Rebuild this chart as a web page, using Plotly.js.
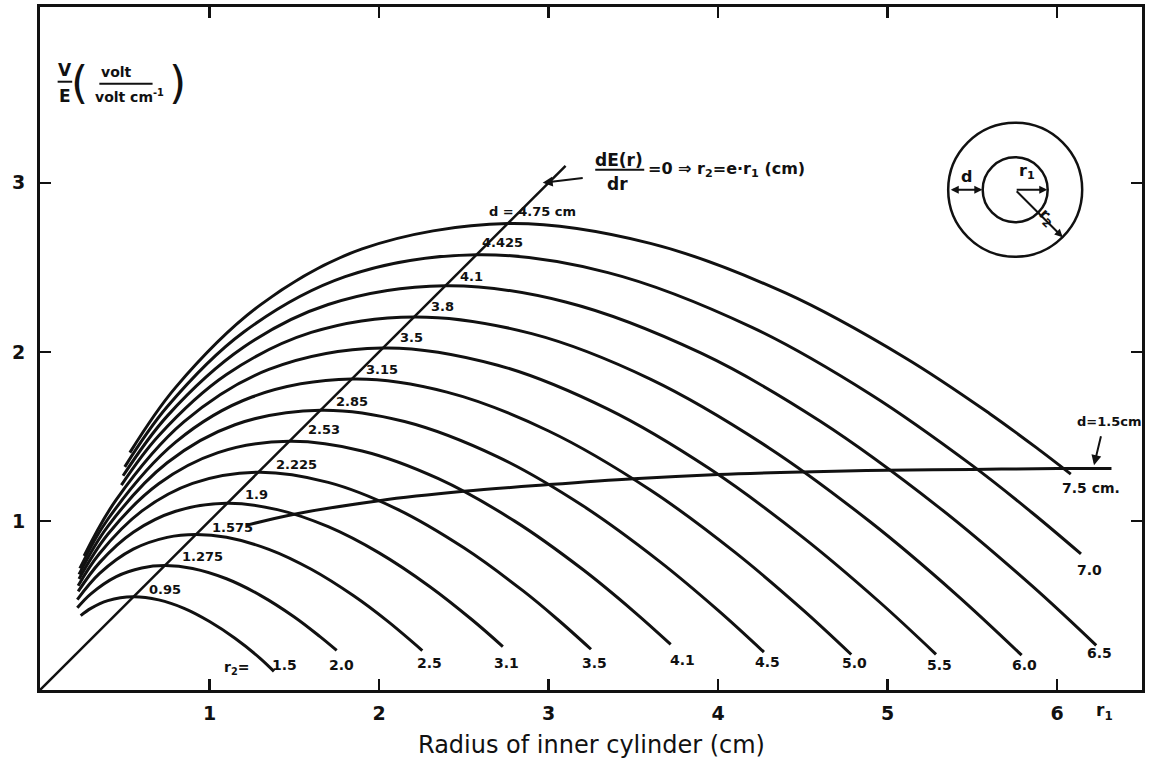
<!DOCTYPE html>
<html>
<head>
<meta charset="utf-8">
<script src="https://cdn.plot.ly/plotly-3.0.1.min.js"></script>
<style>html,body{margin:0;padding:0;background:#fff;}#chart{width:1151px;height:768px;}</style>
</head>
<body>
<div id="chart"></div>
<script>
// ---- data ----
const xTicks = [1, 2, 3, 4, 5, 6];
const yTicks = [1, 2, 3];

// curves of constant outer radius r2 (r1 in cm, V/E)
const r1_15 = [0.24, 0.3, 0.4, 0.55, 0.7, 0.85, 1.0, 1.15, 1.3, 1.38];
const v_15  = [0.44, 0.483, 0.529, 0.552, 0.533, 0.483, 0.405, 0.306, 0.186, 0.11];
const r1_20 = [0.22, 0.3, 0.45, 0.6, 0.74, 0.9, 1.1, 1.3, 1.5, 1.65, 1.75];
const v_20  = [0.486, 0.569, 0.671, 0.722, 0.736, 0.719, 0.658, 0.56, 0.432, 0.317, 0.234];
const r1_25 = [0.22, 0.35, 0.55, 0.75, 0.92, 1.1, 1.35, 1.6, 1.85, 2.05, 2.255];
const v_25  = [0.535, 0.688, 0.833, 0.903, 0.92, 0.903, 0.832, 0.714, 0.557, 0.407, 0.233];
const r1_31 = [0.225, 0.35, 0.55, 0.8, 1.1, 1.4, 1.7, 2.0, 2.3, 2.55, 2.73];
const v_31  = [0.583, 0.752, 0.933, 1.057, 1.104, 1.067, 0.966, 0.811, 0.611, 0.414, 0.257];
const r1_35 = [0.225, 0.35, 0.6, 0.9, 1.29, 1.7, 2.1, 2.5, 2.85, 3.05, 3.25];
const v_35  = [0.617, 0.806, 1.058, 1.222, 1.288, 1.228, 1.073, 0.841, 0.586, 0.42, 0.241];
const r1_41 = [0.23, 0.4, 0.7, 1.05, 1.47, 1.9, 2.35, 2.8, 3.2, 3.5, 3.72];
const v_41  = [0.657, 0.921, 1.22, 1.404, 1.471, 1.414, 1.25, 0.999, 0.714, 0.467, 0.27];
const r1_45 = [0.23, 0.4, 0.75, 1.15, 1.655, 2.15, 2.7, 3.2, 3.65, 4.0, 4.27];
const v_45  = [0.684, 0.968, 1.344, 1.569, 1.655, 1.588, 1.379, 1.091, 0.764, 0.471, 0.224];
const r1_50 = [0.235, 0.4, 0.8, 1.25, 1.84, 2.4, 3.0, 3.6, 4.1, 4.5, 4.785];
const v_50  = [0.719, 1.01, 1.466, 1.733, 1.839, 1.762, 1.532, 1.183, 0.814, 0.474, 0.21];
const r1_55 = [0.26, 0.45, 0.85, 1.35, 2.02, 2.7, 3.35, 3.95, 4.5, 4.95, 5.285];
const v_55  = [0.793, 1.126, 1.587, 1.896, 2.023, 1.921, 1.661, 1.308, 0.903, 0.522, 0.211];
const r1_60 = [0.48, 0.7, 1.1, 1.6, 2.21, 2.9, 3.6, 4.3, 4.9, 5.4, 5.79];
const v_60  = [1.212, 1.504, 1.866, 2.115, 2.207, 2.108, 1.839, 1.432, 0.992, 0.569, 0.206];
const r1_65 = [0.49, 0.75, 1.2, 1.7, 2.39, 3.1, 3.9, 4.6, 5.3, 5.85, 6.23];
const v_65  = [1.267, 1.62, 2.027, 2.28, 2.391, 2.295, 1.992, 1.591, 1.082, 0.617, 0.264];
const r1_70 = [0.5, 0.75, 1.2, 1.8, 2.575, 3.35, 4.2, 4.9, 5.5, 5.85, 6.14];
const v_70  = [1.32, 1.675, 2.116, 2.445, 2.575, 2.469, 2.145, 1.748, 1.327, 1.05, 0.805];
const r1_75 = [0.53, 0.8, 1.3, 1.9, 2.76, 3.6, 4.4, 5.1, 5.6, 5.9, 6.08];
const v_75  = [1.404, 1.79, 2.278, 2.609, 2.759, 2.642, 2.347, 1.967, 1.636, 1.416, 1.277];

// constant gap d = 1.5 cm
const r1_d15 = [1.22, 1.5, 2.0, 2.5, 3.0, 3.5, 4.0, 4.5, 5.0, 5.5, 6.0, 6.32];
const v_d15  = [0.975, 1.04, 1.12, 1.175, 1.215, 1.25, 1.275, 1.29, 1.3, 1.305, 1.31, 1.31];

// locus of maxima dE/dr = 0  (r2 = e*r1)
const r1_max = [0, 3.1];
const v_max  = [0, 3.1];

const r2Labels = ["1.5", "2.0", "2.5", "3.1", "3.5", "4.1", "4.5", "5.0", "5.5", "6.0", "6.5", "7.0", "7.5 cm."];
const dLabels  = ["0.95", "1.275", "1.575", "1.9", "2.225", "2.53", "2.85", "3.15", "3.5", "3.8", "4.1", "4.425", "d = 4.75 cm"];

// ---- drawing ----
const INK = '#111';
const curvesX = [r1_15, r1_20, r1_25, r1_31, r1_35, r1_41, r1_45, r1_50, r1_55, r1_60, r1_65, r1_70, r1_75];
const curvesY = [v_15, v_20, v_25, v_31, v_35, v_41, v_45, v_50, v_55, v_60, v_65, v_70, v_75];

const traces = curvesX.map((xs, i) => ({
  x: xs, y: curvesY[i], type: 'scatter', mode: 'lines',
  line: {color: INK, width: 3, shape: 'spline', smoothing: 1},
  hoverinfo: 'skip', showlegend: false, name: 'r2 = ' + r2Labels[i]
}));
traces.push({x: r1_d15, y: v_d15, type: 'scatter', mode: 'lines',
  line: {color: INK, width: 3, shape: 'spline', smoothing: 1}, showlegend: false, hoverinfo: 'skip'});
traces.push({x: r1_max, y: v_max, type: 'scatter', mode: 'lines',
  line: {color: INK, width: 2.5}, showlegend: false, hoverinfo: 'skip'});

const F = 'DejaVu Sans, Arial, sans-serif';
const lblFont = {family: F, size: 13, color: INK, weight: 'bold'};

// label positions (data coords)
const dPos = [[0.735,0.592],[0.958,0.787],[1.136,0.964],[1.277,1.154],[1.513,1.331],[1.678,1.538],
  [1.843,1.704],[2.02,1.893],[2.191,2.083],[2.374,2.266],[2.545,2.444],[2.728,2.645],[2.905,2.828]];
const r2Pos = [[1.442,0.148],[1.778,0.148],[2.297,0.16],[2.751,0.16],[3.27,0.16],[3.789,0.178],
  [4.29,0.166],[4.803,0.16],[5.304,0.148],[5.806,0.148],[6.248,0.219],[6.189,0.71],[6.2,1.195]];

const ann = [];
dLabels.forEach((t, i) => ann.push({x: dPos[i][0], y: dPos[i][1], text: t, showarrow: false, font: lblFont}));
r2Labels.forEach((t, i) => ann.push({x: r2Pos[i][0], y: r2Pos[i][1], text: t, showarrow: false, font: {family: F, size: 14, color: INK, weight: 'bold'}}));
ann.push({x: 1.159, y: 0.13, text: 'r<sub>2</sub>=', showarrow: false, font: {family: F, size: 14, color: INK, weight: 'bold'}});
// d = 1.5 cm
ann.push({x: 6.307, y: 1.586, text: 'd=1.5cm', showarrow: false, font: {family: F, size: 13, color: INK, weight: 'bold'}});
ann.push({x: 6.217, y: 1.33, ax: 6.26, ay: 1.51, axref: 'x', ayref: 'y', text: '', showarrow: true,
  arrowhead: 2, arrowsize: 1, arrowwidth: 2, arrowcolor: INK});
// r1 at axis end (paper coords, below the axis)
ann.push({xref: 'paper', yref: 'paper', x: 0.9755, y: -0.032, yanchor: 'middle', text: 'r<sub>1</sub>', showarrow: false,
  font: {family: F, size: 17, color: INK, weight: 'bold'}});
// dE/dr annotation
ann.push({x: 3.417, y: 3.136, text: 'dE(r)', showarrow: false, font: {family: F, size: 17, color: INK, weight: 'bold'}});
ann.push({x: 3.405, y: 2.994, text: 'dr', showarrow: false, font: {family: F, size: 17, color: INK, weight: 'bold'}});
ann.push({x: 3.577, y: 3.077, xanchor: 'left', text: '=0 ⇒ r<sub>2</sub>=e·r<sub>1</sub> (cm)', showarrow: false, font: {family: F, size: 16, color: INK, weight: 'bold'}});
ann.push({x: 2.965, y: 3.0, ax: 3.21, ay: 3.03, axref: 'x', ayref: 'y', text: '', showarrow: true,
  arrowhead: 2, arrowsize: 1, arrowwidth: 2, arrowcolor: INK});
// y-axis label
ann.push({x: 0.145, y: 3.669, text: 'V', showarrow: false, font: {family: F, size: 17, color: INK, weight: 'bold'}});
ann.push({x: 0.145, y: 3.515, text: 'E', showarrow: false, font: {family: F, size: 17, color: INK, weight: 'bold'}});
ann.push({x: 0.233, y: 3.595, text: '(', showarrow: false, font: {family: F, size: 44, color: INK}});
ann.push({x: 0.81, y: 3.595, text: ')', showarrow: false, font: {family: F, size: 44, color: INK}});
ann.push({x: 0.452, y: 3.657, text: 'volt', showarrow: false, font: {family: F, size: 14, color: INK, weight: 'bold'}});
ann.push({x: 0.53, y: 3.515, text: 'volt cm<sup>-1</sup>', showarrow: false, font: {family: F, size: 14, color: INK, weight: 'bold'}});
// inset labels
ann.push({x: 5.463, y: 3.04, text: 'd', showarrow: false, font: {family: F, size: 16, color: INK, weight: 'bold'}});
ann.push({x: 5.823, y: 3.065, text: 'r<sub>1</sub>', showarrow: false, font: {family: F, size: 16, color: INK, weight: 'bold'}});
ann.push({x: 5.94, y: 2.795, text: 'r<sub>2</sub>', textangle: 45, showarrow: false, font: {family: F, size: 16, color: INK, weight: 'bold'}});
ann.push({x: 5.558, y: 2.959, ax: 5.363, ay: 2.959, axref: 'x', ayref: 'y', text: '', showarrow: true,
  arrowhead: 2, arrowside: 'end+start', arrowsize: 0.8, arrowwidth: 2, arrowcolor: INK, standoff: 0, startstandoff: 0});
ann.push({x: 5.941, y: 2.959, ax: 5.752, ay: 2.959, axref: 'x', ayref: 'y', text: '', showarrow: true,
  arrowhead: 2, arrowsize: 0.8, arrowwidth: 2, arrowcolor: INK});
ann.push({x: 6.032, y: 2.678, ax: 5.752, ay: 2.959, axref: 'x', ayref: 'y', text: '', showarrow: true,
  arrowhead: 2, arrowsize: 0.8, arrowwidth: 2, arrowcolor: INK});
// x title
ann.push({xref: 'paper', yref: 'paper', x: 0.5, y: -0.0805, yanchor: 'middle', text: 'Radius of inner cylinder (cm)', showarrow: false,
  font: {family: F, size: 24, color: INK}});

const shapes = [
  {type: 'line', x0: 0.104, x1: 0.19, y0: 3.598, y1: 3.598, line: {color: INK, width: 2}},
  {type: 'line', x0: 0.35, x1: 0.664, y0: 3.586, y1: 3.586, line: {color: INK, width: 2}},
  {type: 'line', x0: 3.275, x1: 3.564, y0: 3.077, y1: 3.077, line: {color: INK, width: 2}},
  {type: 'circle', xsizemode: 'pixel', ysizemode: 'pixel', xanchor: 5.752, yanchor: 2.959,
    x0: -67, x1: 67, y0: -67, y1: 67, line: {color: INK, width: 2.5}},
  {type: 'circle', xsizemode: 'pixel', ysizemode: 'pixel', xanchor: 5.752, yanchor: 2.959,
    x0: -32.5, x1: 32.5, y0: -32.5, y1: 32.5, line: {color: INK, width: 2.5}}
];

const axisCommon = {
  showgrid: false, zeroline: false, showline: true, linecolor: INK, linewidth: 3, mirror: 'ticks',
  ticks: 'inside', ticklen: 11, tickwidth: 2.5, tickcolor: INK,
  tickfont: {family: F, size: 19, color: INK, weight: 'bold'}, fixedrange: true
};

const layout = {
  width: 1151, height: 768,
  margin: {l: 40, r: 9, t: 7, b: 78},
  paper_bgcolor: '#fff', plot_bgcolor: '#fff',
  xaxis: Object.assign({}, axisCommon, {range: [0, 6.5], tickvals: xTicks, ticktext: xTicks.map(String), ticklabelstandoff: 4}),
  yaxis: Object.assign({}, axisCommon, {range: [0, 4.04], tickvals: yTicks, ticktext: yTicks.map(String), ticklabelstandoff: 8}),
  annotations: ann, shapes: shapes, showlegend: false
};

Plotly.newPlot('chart', traces, layout, {displayModeBar: false, staticPlot: true});
</script>
</body>
</html>
